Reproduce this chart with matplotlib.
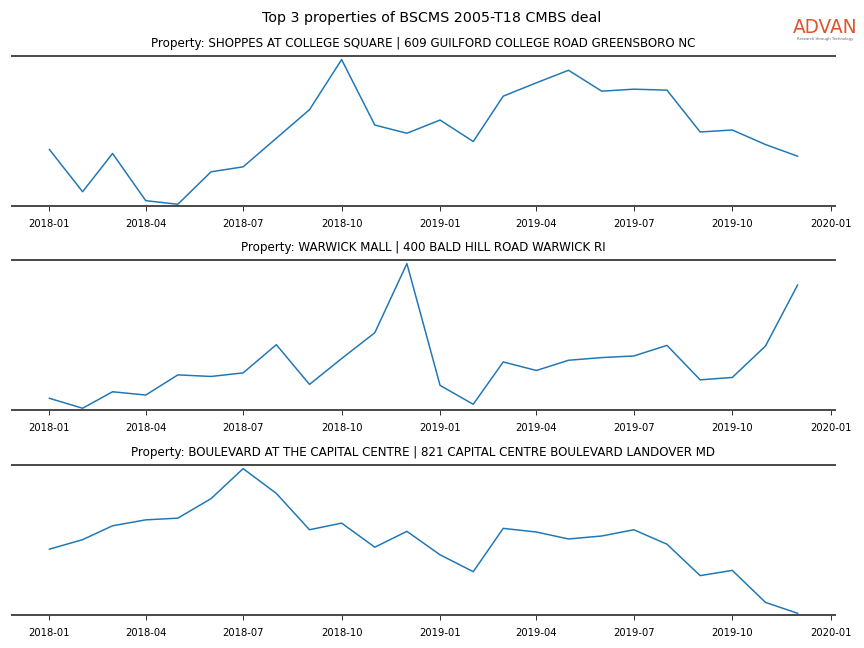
import pandas as pd
import numpy as np
import matplotlib
matplotlib.use("Agg")
import matplotlib.pyplot as plt
import matplotlib.dates as mdates

months = pd.date_range("2018-01-01", "2019-12-01", freq="MS")

shoppes = [56.4, 14.0, 52.4, 5.0, 1.4, 34.0, 39.0, 67.7, 96.4, 146.7, 81.0, 72.7,
           86.0, 64.4, 110.0, 123.4, 136.0, 115.0, 117.0, 116.0, 74.0, 76.0, 61.4, 49.7]
warwick = [12.4, 2.4, 19.0, 15.7, 36.0, 34.4, 38.0, 66.4, 26.4, 52.4, 78.4, 148.0,
           25.4, 6.4, 49.0, 40.4, 50.7, 53.4, 55.0, 65.7, 31.0, 33.4, 65.0, 126.4]
boulevard = [66.0, 75.6, 89.6, 95.6, 97.3, 117.0, 147.3, 122.3, 85.6, 92.3, 68.0, 84.0,
             60.3, 43.3, 87.0, 83.3, 76.3, 79.3, 85.6, 71.0, 39.3, 44.6, 12.3, 1.3]

titles = [
    "Property: SHOPPES AT COLLEGE SQUARE | 609 GUILFORD COLLEGE ROAD GREENSBORO NC",
    "Property: WARWICK MALL | 400 BALD HILL ROAD WARWICK RI",
    "Property: BOULEVARD AT THE CAPITAL CENTRE | 821 CAPITAL CENTRE BOULEVARD LANDOVER MD",
]
series = [shoppes, warwick, boulevard]

fig = plt.figure(figsize=(12, 9), dpi=72)
fig.suptitle("Top 3 properties of BSCMS 2005-T18 CMBS deal", fontsize=14.3, y=0.983)

# logo text
fig.text(0.955, 0.957, "ADVAN", color="#e2522b", fontsize=18.5, ha="center", va="center")
fig.text(0.955, 0.940, "Research through Technology", color="#666666", fontsize=3.8,
         ha="center", va="center")

bottoms = [0.6821, 0.3673, 0.0509]
for ax_bottom, vals, title in zip(bottoms, series, titles):
    ax = fig.add_axes([0.0139, ax_bottom, 0.9525, 0.2315])
    ax.plot(months, vals, color="#1f77b4", lw=1.5)
    lo, hi = min(vals), max(vals)
    rng = hi - lo
    ax.set_ylim(lo - 0.012 * rng, hi + 0.025 * rng)
    ax.set_title(title, fontsize=11.9, pad=9)
    ax.xaxis.set_major_locator(mdates.MonthLocator(bymonth=[1, 4, 7, 10]))
    ax.xaxis.set_major_formatter(mdates.DateFormatter("%Y-%m"))
    ax.tick_params(axis="x", labelsize=10, length=5, width=0.8, pad=8)
    ax.set_yticks([])
    for s in ["left", "right"]:
        ax.spines[s].set_visible(False)
    for s in ["top", "bottom"]:
        ax.spines[s].set_color("#4d4d4d")
        ax.spines[s].set_linewidth(2)

fig.savefig("out.png", dpi=72)
